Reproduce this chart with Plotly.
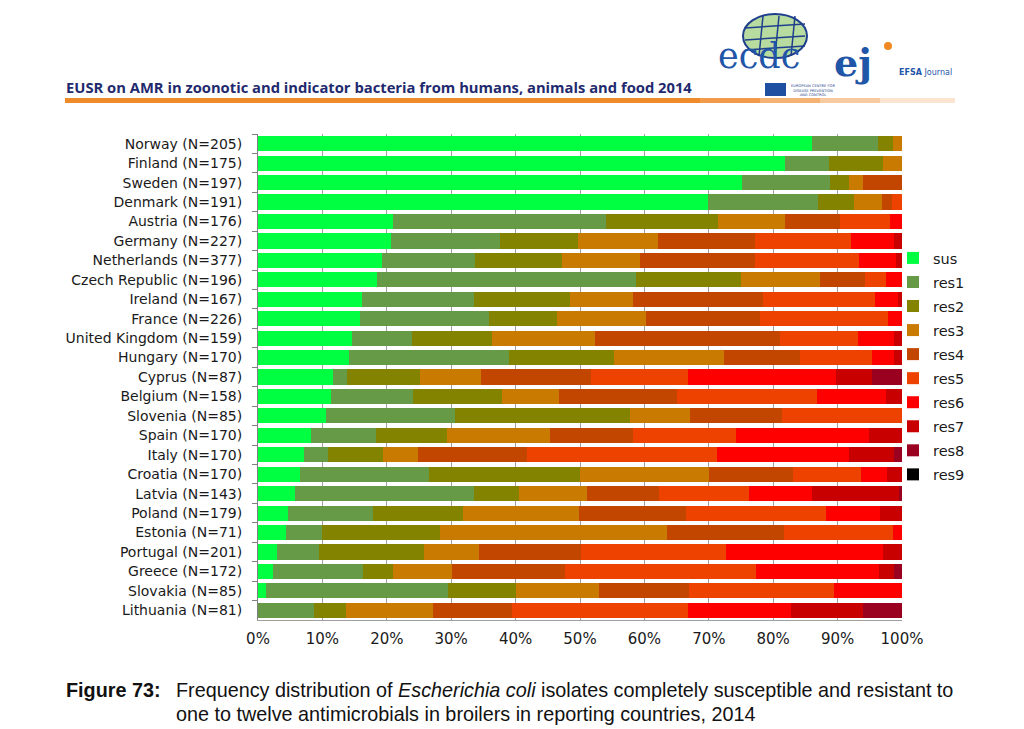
import plotly.graph_objects as go

countries = ["Norway (N=205)", "Finland (N=175)", "Sweden (N=197)", "Denmark (N=191)",
             "Austria (N=176)", "Germany (N=227)", "Netherlands (N=377)", "Czech Republic (N=196)",
             "Ireland (N=167)", "France (N=226)", "United Kingdom (N=159)", "Hungary (N=170)",
             "Cyprus (N=87)", "Belgium (N=158)", "Slovenia (N=85)", "Spain (N=170)",
             "Italy (N=170)", "Croatia (N=170)", "Latvia (N=143)", "Poland (N=179)",
             "Estonia (N=71)", "Portugal (N=201)", "Greece (N=172)", "Slovakia (N=85)",
             "Lithuania (N=81)"]

sus  = [86.0, 81.8, 75.2, 69.8, 21.0, 20.7, 19.3, 18.4, 16.2, 15.9, 14.6, 14.1, 11.6, 11.4, 10.6, 8.3, 7.1, 6.5, 5.7, 4.6, 4.3, 3.0, 2.3, 1.2, 0.0]
res1 = [10.3, 6.8, 13.6, 17.1, 33.0, 16.9, 14.4, 40.3, 17.3, 20.0, 9.3, 24.8, 2.2, 12.6, 20.0, 10.0, 3.7, 20.0, 27.9, 13.2, 5.6, 6.5, 14.0, 28.3, 8.7]
res2 = [2.3, 8.5, 3.0, 5.7, 17.5, 12.1, 13.5, 16.3, 15.0, 10.5, 12.5, 16.4, 11.4, 13.9, 27.1, 11.1, 8.6, 23.5, 6.9, 14.0, 18.3, 16.3, 4.6, 10.5, 4.9]
res3 = [1.4, 2.9, 2.1, 4.3, 10.3, 12.4, 12.1, 12.3, 9.7, 13.8, 15.9, 17.1, 9.4, 8.9, 9.4, 15.9, 5.4, 20.0, 10.6, 18.0, 35.3, 8.5, 9.3, 13.0, 13.5]
res4 = [0.0, 0.0, 6.1, 1.5, 8.5, 15.0, 17.9, 7.0, 20.2, 17.7, 28.8, 11.7, 17.1, 18.3, 14.2, 12.9, 16.9, 13.0, 11.1, 16.7, 18.1, 15.9, 17.4, 14.0, 12.4]
res5 = [0.0, 0.0, 0.0, 1.6, 7.9, 15.0, 16.1, 3.2, 17.4, 19.9, 12.0, 11.2, 15.1, 21.7, 18.7, 16.1, 29.5, 10.6, 14.1, 21.7, 17.0, 22.4, 29.7, 22.4, 27.3]
res6 = [0.0, 0.0, 0.0, 0.0, 1.8, 6.6, 5.7, 2.5, 3.6, 2.2, 5.6, 3.5, 22.9, 10.7, 0.0, 20.5, 20.6, 4.1, 9.7, 8.4, 1.4, 24.4, 19.2, 10.6, 15.9]
res7 = [0.0, 0.0, 0.0, 0.0, 0.0, 1.3, 1.0, 0.0, 0.6, 0.0, 1.3, 1.2, 5.7, 2.5, 0.0, 5.2, 7.0, 2.3, 13.5, 3.4, 0.0, 3.0, 2.3, 0.0, 11.2]
res8 = [0.0, 0.0, 0.0, 0.0, 0.0, 0.0, 0.0, 0.0, 0.0, 0.0, 0.0, 0.0, 4.6, 0.0, 0.0, 0.0, 1.2, 0.0, 0.5, 0.0, 0.0, 0.0, 1.2, 0.0, 6.1]
res9 = [0.0] * 25

series_names = ["sus", "res1", "res2", "res3", "res4", "res5", "res6", "res7", "res8", "res9"]
series_values = [sus, res1, res2, res3, res4, res5, res6, res7, res8, res9]
colors = ["#00FF41", "#679A47", "#838300", "#C97A00", "#C24600", "#EE4200",
          "#FF0000", "#C80000", "#9A0020", "#000000"]

x_ticks = [0, 10, 20, 30, 40, 50, 60, 70, 80, 90, 100]
x_tick_labels = ["0%", "10%", "20%", "30%", "40%", "50%", "60%", "70%", "80%", "90%", "100%"]

ML, MR, MT, MB = 258, 122, 134, 109
W, H = 1024, 729
PW, PH = W - ML - MR, H - MT - MB

def px(x):
    return (x - ML) / PW

def py(y):
    return (H - MB - y) / PH

fig = go.Figure()
for name, vals, col in zip(series_names, series_values, colors):
    fig.add_trace(go.Bar(
        y=countries, x=vals, name=name, orientation="h",
        marker=dict(color=col, line=dict(width=0)),
        legendgroup=name,
    ))

fig.update_layout(
    barmode="stack",
    bargap=0.22,
    width=W, height=H,
    paper_bgcolor="white", plot_bgcolor="white",
    margin=dict(l=ML, r=MR, t=MT, b=MB, autoexpand=False),
    font=dict(family="DejaVu Sans", size=14, color="#1a1a1a"),
    showlegend=True,
    legend=dict(x=px(893), xanchor="left", y=py(242), yanchor="top",
                font=dict(family="DejaVu Sans", size=14.5, color="#1a1a1a"),
                traceorder="grouped", tracegroupgap=2.2,
                itemwidth=30, bgcolor="rgba(0,0,0,0)"),
)

fig.update_xaxes(
    range=[0, 100], tickvals=x_ticks, ticktext=x_tick_labels,
    showgrid=True, gridcolor="#a0a0a0", gridwidth=1,
    showline=True, linecolor="#a0a0a0", linewidth=1,
    ticks="", ticklabelstandoff=5,
    tickfont=dict(family="DejaVu Sans", size=15, color="#1a1a1a"),
    zeroline=False, fixedrange=True,
)
fig.update_yaxes(
    autorange="reversed", categoryorder="array", categoryarray=countries,
    showline=True, linecolor="#808080", linewidth=1,
    ticks="outside", tickson="boundaries", ticklen=5, tickcolor="#808080",
    ticklabelstandoff=12,
    tickfont=dict(family="DejaVu Sans", size=14, color="#1a1a1a"),
    showgrid=False, fixedrange=True,
)

# Header text
fig.add_annotation(xref="paper", yref="paper", x=px(64), y=py(87), xanchor="left", yanchor="middle",
                   text="<b>EUSR on AMR in zoonotic and indicator bacteria from humans, animals and food 2014</b>",
                   showarrow=False,
                   font=dict(family="Open Sans", size=14.75, color="#1f2a6e"))

# Orange header line (fading at right end)
seg_x = [65, 700, 760, 820, 880, 955]
seg_op = [1.0, 0.85, 0.65, 0.45, 0.22]
for i in range(len(seg_op)):
    fig.add_shape(type="rect", xref="paper", yref="paper",
                  x0=px(seg_x[i]), x1=px(seg_x[i + 1]),
                  y0=py(103), y1=py(98),
                  line=dict(width=0), fillcolor="#EE8A2A", opacity=seg_op[i], layer="above")

# Logo approximations
fig.add_shape(type="circle", xref="paper", yref="paper",
              x0=px(743), x1=px(807), y0=py(58), y1=py(14),
              line=dict(color="#1f3f8c", width=2), fillcolor="#b8dca0")
for gx in [759, 775, 791]:
    fig.add_shape(type="line", xref="paper", yref="paper",
                  x0=px(gx), x1=px(gx + 4), y0=py(56), y1=py(16),
                  line=dict(color="#1f3f8c", width=1.5))
for gy in [28, 40, 50]:
    fig.add_shape(type="line", xref="paper", yref="paper",
                  x0=px(745), x1=px(805), y0=py(gy), y1=py(gy - 4),
                  line=dict(color="#1f3f8c", width=1.5))
fig.add_annotation(xref="paper", yref="paper", x=px(802), y=py(56), yanchor="middle", text="ecdc",
                   showarrow=False, bgcolor="rgba(0,0,0,0)",
                   font=dict(family="DejaVu Serif", size=35, color="#1f56a8"))
fig.add_shape(type="rect", xref="paper", yref="paper",
              x0=px(765), x1=px(786), y0=py(96), y1=py(83),
              line=dict(width=0), fillcolor="#1f4fa0")
fig.add_annotation(xref="paper", yref="paper", x=px(789), y=py(91), xanchor="left", yanchor="middle",
                   text="EUROPEAN CENTRE FOR<br>DISEASE PREVENTION<br>AND CONTROL",
                   showarrow=False, font=dict(family="DejaVu Sans", size=3.6, color="#1f3f8c"))
fig.add_annotation(xref="paper", yref="paper", x=px(874), y=py(62), yanchor="middle", text="<b>ej</b>",
                   showarrow=False, font=dict(family="DejaVu Serif", size=38, color="#1f56a8"))
fig.add_annotation(xref="paper", yref="paper", x=px(897), y=py(73), xanchor="left", yanchor="middle",
                   text="<b>EFSA</b> Journal",
                   showarrow=False, font=dict(family="DejaVu Sans", size=8, color="#1f56a8"))
fig.add_shape(type="circle", xref="paper", yref="paper",
              x0=px(884), x1=px(892), y0=py(50), y1=py(42),
              line=dict(width=0), fillcolor="#F08A20")

# Caption
cap_font = dict(family="Liberation Sans Narrow, Liberation Sans", size=19.8, color="#111111")
fig.add_annotation(xref="paper", yref="paper", x=px(64), y=py(690), xanchor="left", yanchor="middle",
                   text="<b>Figure 73:</b>", showarrow=False, font=cap_font)
fig.add_annotation(xref="paper", yref="paper", x=px(174), y=py(690), xanchor="left", yanchor="middle",
                   text="Frequency distribution of <i>Escherichia coli</i> isolates completely susceptible and resistant to",
                   showarrow=False, font=cap_font)
fig.add_annotation(xref="paper", yref="paper", x=px(174), y=py(714), xanchor="left", yanchor="middle",
                   text="one to twelve antimicrobials in broilers in reporting countries, 2014",
                   showarrow=False, font=cap_font)

fig.write_html("out.html", config={"displayModeBar": False},
               post_script="document.body.style.margin='0px';")
